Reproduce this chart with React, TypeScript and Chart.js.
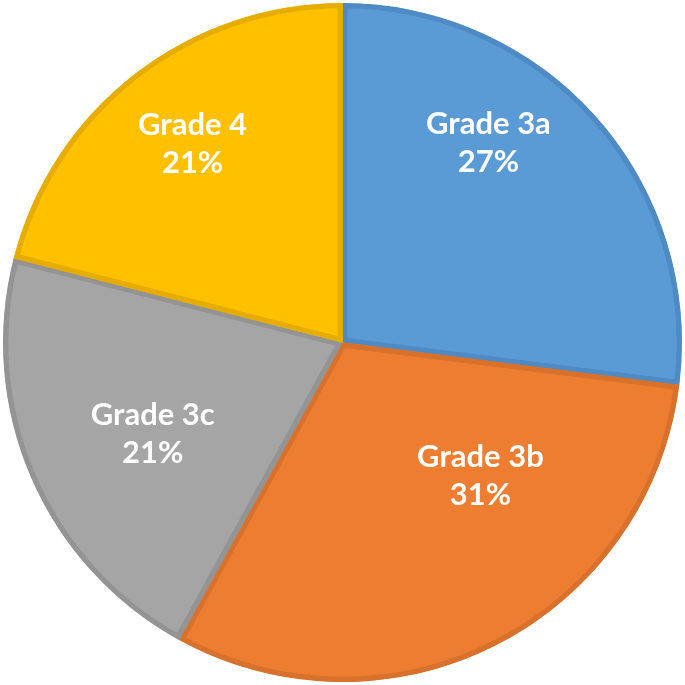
import React, { useEffect, useRef } from "react";
import { Chart, registerables } from "chart.js";

Chart.register(...registerables);

const categories = ["Grade 3a", "Grade 3b", "Grade 3c", "Grade 4"];
const values = [27, 31, 21, 21];
const fillColors = ["#5B9BD5", "#ED7D31", "#A5A5A5", "#FFC000"];
const borderColors = ["#4E8AC3", "#D8712C", "#949494", "#E6AD00"];
// label placement: fraction along the slice angle, fraction of the radius
const labelAngleFrac = [0.373, 0.33, 0.47, 0.51];
const labelRadiusFrac = [0.727, 0.565, 0.62, 0.733];

const labelPlugin = {
  id: "sliceLabels",
  afterDatasetsDraw(chart: any) {
    const meta = chart.getDatasetMeta(0);
    const ctx = chart.ctx;
    const total = values.reduce((a, b) => a + b, 0);
    ctx.save();
    ctx.fillStyle = "#FFFFFF";
    ctx.textAlign = "center";
    ctx.textBaseline = "middle";
    ctx.font = "bold 31px Lato, 'Open Sans', sans-serif";
    meta.data.forEach((arc: any, i: number) => {
      const { x, y, startAngle, endAngle, outerRadius } = arc.getProps(
        ["x", "y", "startAngle", "endAngle", "outerRadius"],
        true
      );
      const a = startAngle + (endAngle - startAngle) * labelAngleFrac[i];
      const r = outerRadius * labelRadiusFrac[i];
      const cx = x + Math.cos(a) * r;
      const cy = y + Math.sin(a) * r;
      const pct = Math.round((values[i] / total) * 100) + "%";
      ctx.fillText(categories[i], cx, cy - 19);
      ctx.fillText(pct, cx, cy + 19);
    });
    ctx.restore();
  },
};

export default function App() {
  const ref = useRef<HTMLCanvasElement>(null);
  useEffect(() => {
    document.body.style.margin = "0";
    const chart = new Chart(ref.current as HTMLCanvasElement, {
      type: "pie",
      data: {
        labels: categories,
        datasets: [
          {
            data: values,
            backgroundColor: fillColors,
            borderColor: borderColors,
            borderWidth: 5,
            borderAlign: "inner",
          } as any,
        ],
      },
      options: {
        animation: false,
        responsive: false,
        layout: { padding: 3 },
        plugins: {
          legend: { display: false },
          tooltip: { enabled: false },
        },
      },
      plugins: [labelPlugin],
    });
    return () => chart.destroy();
  }, []);
  return (
    <div style={{ width: 685, height: 685, background: "#fff" }}>
      <canvas ref={ref} width={685} height={685} />
    </div>
  );
}
